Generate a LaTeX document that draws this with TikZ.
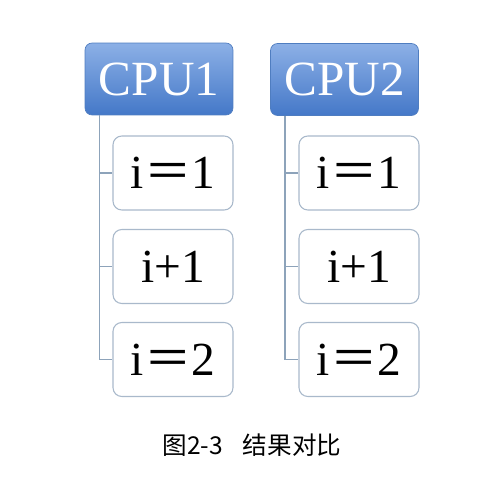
\documentclass[tikz,border=0pt]{standalone}
\usepackage{fontspec}
\setmainfont{Liberation Serif}
\newfontfamily\cjk{Noto Sans CJK SC}
\usepackage{tikz}
\usetikzlibrary{positioning}

\definecolor{cpuTop}{HTML}{8CB0E6}
\definecolor{cpuBot}{HTML}{4478C8}
\definecolor{cpuEdge}{HTML}{4F7DC0}
\definecolor{boxEdge}{HTML}{A9B9CB}
\definecolor{linkLine}{HTML}{8DA3BA}

\tikzset{
  cpu/.style={rounded corners=4pt, draw=cpuEdge, top color=cpuTop, bottom color=cpuBot,
    minimum width=2.96cm, minimum height=1.44cm, text=white, font=\fontsize{28}{30}\selectfont},
  val/.style={rounded corners=5pt, draw=boxEdge, fill=white, line width=0.6pt,
    minimum width=2.4cm, minimum height=1.48cm, font=\fontsize{27}{30}\selectfont},
  link/.style={draw=linkLine, line width=0.8pt}
}

\newcommand{\eqs}{{\cjk ＝}}

\begin{document}
\begin{tikzpicture}[x=0.02cm,y=-0.02cm]
  \useasboundingbox (0,0) rectangle (491,487);

  \draw (159,79) node[cpu] (cpuA) {CPU1};
  \draw (344.5,79.5) node[cpu] (cpuB) {CPU2};

  \draw (173,173) node[val] (a1) {i\eqs1};
  \draw (173,266.5) node[val] (a2) {i+1};
  \draw (173,359.5) node[val] (a3) {i\eqs2};

  \draw (359,173) node[val] (b1) {i\eqs1};
  \draw (359,266.5) node[val] (b2) {i+1};
  \draw (359,359.5) node[val] (b3) {i\eqs2};

  \draw (252,445) node (cap) {\cjk\fontsize{14}{17}\selectfont 图2-3\hspace{0.8em}结果对比};

    \path[link] ([xshift=0.3cm]cpuA.south west) |- (a1.west);
    \path[link] ([xshift=0.3cm]cpuA.south west) |- (a2.west);
    \path[link] ([xshift=0.3cm]cpuA.south west) |- (a3.west);
    \path[link] ([xshift=0.3cm]cpuB.south west) |- (b1.west);
    \path[link] ([xshift=0.3cm]cpuB.south west) |- (b2.west);
    \path[link] ([xshift=0.3cm]cpuB.south west) |- (b3.west);

\end{tikzpicture}
\end{document}
